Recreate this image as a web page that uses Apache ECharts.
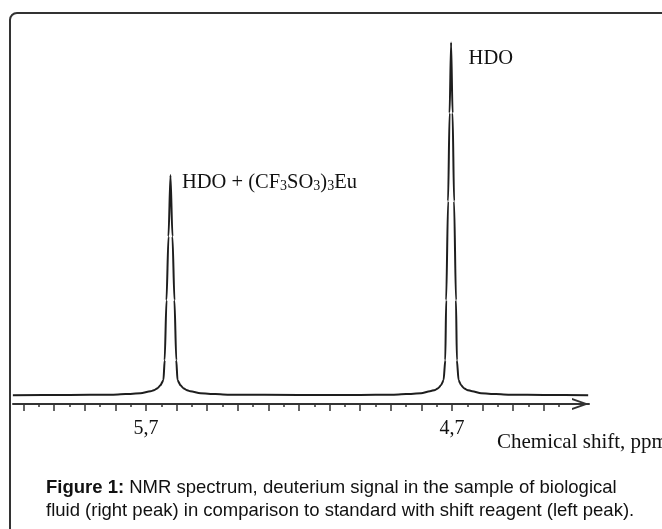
<!DOCTYPE html>
<html>
<head>
<meta charset="utf-8">
<script src="https://cdn.jsdelivr.net/npm/echarts@6/dist/echarts.min.js"></script>
<style>
  html, body { margin: 0; padding: 0; background: #fff; }
  body { width: 662px; height: 529px; position: relative; overflow: hidden; }
  /* figure frame, runs off the right and bottom edge like in the scan */
  .frame { position: absolute; left: 9px; top: 12px; width: 720px; height: 600px;
           border: 2px solid #333; border-radius: 8px; box-sizing: border-box; }
  #chart { position: absolute; left: 0; top: 0; width: 662px; height: 529px; }
</style>
</head>
<body>
<div class="frame"></div>
<div id="chart"></div>
<script>
// chemical shift (ppm) and signal intensity
const shiftPpm = [
  6.135, 5.95, 5.816, 5.767, 5.718, 5.685, 5.672, 5.662, 5.653, 5.643, 5.639, 5.633, 5.6265,
  5.62,
  5.6135, 5.607, 5.601, 5.597, 5.587, 5.578, 5.568, 5.555, 5.522, 5.473, 5.424,
  5.2, 5.0,
  4.899, 4.85, 4.801, 4.772, 4.755, 4.745, 4.736, 4.7275, 4.722, 4.719, 4.7128, 4.7079,
  4.703,
  4.6981, 4.6932, 4.687, 4.684, 4.6785, 4.67, 4.661, 4.651, 4.634, 4.605, 4.556, 4.507,
  4.4, 4.255
]
const intensity = [
  0, 0.05, 0.15, 0.3, 0.57, 1.13, 1.5, 2.0, 2.8, 4.25, 9.9, 26.9, 45,
  62.4,
  45, 26.9, 9.9, 4.25, 2.8, 2.0, 1.5, 1.13, 0.57, 0.3, 0.15,
  0.05, 0.05,
  0.15, 0.3, 0.57, 1.13, 1.5, 2.0, 2.8, 4.25, 9.9, 26.9, 55, 80,
  100,
  80, 55, 26.9, 9.9, 4.25, 2.8, 2.0, 1.5, 1.13, 0.57, 0.3, 0.15,
  0.05, 0
]

// peak tops and their annotations
const peakShift = [5.62, 4.703]
const peakHeight = [62.4, 100]
const peakNames = [
  '{t|HDO + (CF}{s|3}{t|SO}{s|3}{t|)}{s|3}{t|Eu}',
  '{t|HDO}'
]

// axis ticks
const majorTicks = [6.1, 6.0, 5.9, 5.8, 5.7, 5.6, 5.5, 5.4, 5.3, 5.2, 5.1, 5.0, 4.9, 4.8, 4.7, 4.6, 4.5, 4.4]
const minorTicks = [6.05, 5.95, 5.85, 5.75, 5.65, 5.55, 5.45, 5.35, 5.25, 5.15, 5.05, 4.95, 4.85, 4.75, 4.65, 4.55, 4.45, 4.35]
const labelTicks = [5.7, 4.7]

const axisName = 'Chemical shift, ppm'
const caption = '{b|Figure 1:} NMR spectrum, deuterium signal in the sample of biological\n' +
  'fluid (right peak) in comparison to standard with shift reagent (left peak).'

const xMin = 4.2523
const xMax = 6.1346

const serif = 'Liberation Serif'
const sans = 'Liberation Sans'

const chart = echarts.init(document.getElementById('chart'), null, { renderer: 'canvas' })

const labelRich = {
  t: { fontFamily: serif, fontSize: 20.5, color: '#111', lineHeight: 21 },
  s: { fontFamily: serif, fontSize: 14, color: '#111', lineHeight: 14, verticalAlign: 'bottom' }
}

const option = {
  animation: false,
  title: [
    {
      text: axisName,
      left: 497,
      top: 432,
      padding: 0,
      textStyle: { fontFamily: serif, fontSize: 21, fontWeight: 'normal', color: '#111' }
    },
    {
      text: caption,
      left: 46,
      top: 476,
      padding: 0,
      textStyle: {
        fontFamily: sans, fontSize: 18.5, fontWeight: 'normal', color: '#111', lineHeight: 23,
        rich: { b: { fontFamily: sans, fontSize: 18.5, fontWeight: 'bold', color: '#111', lineHeight: 23 } }
      }
    }
  ],
  grid: { left: 13, right: 73, top: 16, bottom: 125, containLabel: false, outerBoundsMode: 'none' },
  xAxis: [
    {
      type: 'value',
      min: xMin,
      max: xMax,
      inverse: true,
      position: 'bottom',
      axisLine: {
        show: true,
        onZero: false,
        lineStyle: { color: '#333', width: 2 },
        // open arrow head at the right end
        symbol: ['none', 'path://M0,17 L6,0 L12,17 L10,17 L6,5.5 L2,17 Z'],
        symbolSize: [12, 17],
        symbolOffset: [0, -8.5]
      },
      axisTick: { show: true, customValues: majorTicks, length: 7, lineStyle: { color: '#333', width: 1.5 } },
      axisLabel: {
        show: true,
        customValues: labelTicks,
        margin: 15,
        fontFamily: serif,
        fontSize: 20,
        color: '#111',
        formatter: v => String(v).replace('.', ',')
      },
      splitLine: { show: false }
    },
    {
      type: 'value',
      min: xMin,
      max: xMax,
      inverse: true,
      position: 'bottom',
      axisLine: { show: false, onZero: false },
      axisTick: { show: true, customValues: minorTicks, length: 3, lineStyle: { color: '#333', width: 1.5 } },
      axisLabel: { show: false },
      splitLine: { show: false }
    }
  ],
  yAxis: {
    type: 'value',
    min: -2.5,
    max: 107.5,
    show: false,
    splitLine: { show: false }
  },
  series: [
    {
      type: 'line',
      xAxisIndex: 0,
      data: shiftPpm.map((x, i) => [x, intensity[i]]),
      showSymbol: false,
      symbol: 'none',
      smooth: 0.25,
      smoothMonotone: 'x',
      lineStyle: { color: '#1e1e1e', width: 2 },
      markPoint: {
        symbol: 'circle',
        symbolSize: 1,
        itemStyle: { color: 'rgba(0,0,0,0)' },
        data: [
          {
            coord: [peakShift[0], peakHeight[0]],
            label: { show: true, position: [12, 8], align: 'left', verticalAlign: 'middle', formatter: peakNames[0], rich: labelRich }
          },
          {
            coord: [peakShift[1], peakHeight[1]],
            label: { show: true, position: [18, 17], align: 'left', verticalAlign: 'middle', formatter: peakNames[1], rich: labelRich }
          }
        ]
      }
    }
  ]
}

chart.setOption(option)
</script>
</body>
</html>
